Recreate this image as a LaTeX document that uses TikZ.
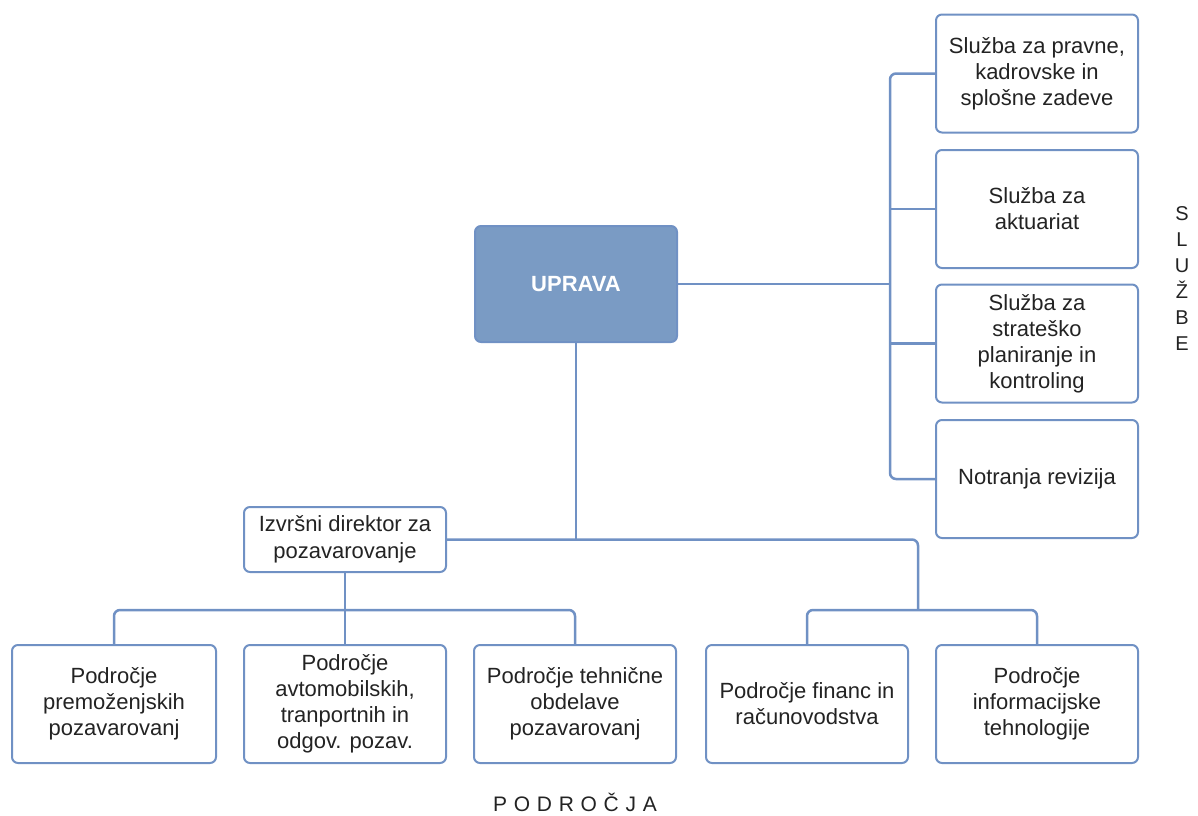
\documentclass[tikz,border=0pt]{standalone}
\usepackage{fontspec}
\setmainfont{Liberation Sans}
\newfontfamily\spaced[LetterSpace=32]{Liberation Sans}
\definecolor{linec}{RGB}{112,145,196}
\definecolor{headc}{RGB}{122,155,196}
\definecolor{txt}{RGB}{35,35,35}
\begin{document}
\begin{tikzpicture}
            [x=0.5pt,y=-0.5pt,
             box/.style ={draw=linec,line width=1pt,rounded corners=3pt,fill=white,
                          minimum width=101pt,minimum height=59pt,align=center,
                          font=\fontsize{11}{13}\selectfont,text=txt,inner sep=1pt},
             head/.style ={box,fill=headc,minimum height=58pt,text=white,
                          font=\fontsize{11}{13}\selectfont\bfseries},
             link/.style ={draw=linec,line width=1.25pt,rounded corners=3pt}]
            \useasboundingbox (0,0) rectangle (1198,815);
            \node[head] (uprava) at (576,284){UPRAVA};
            \node[box] (s1) at (1037,73.5){Služba za pravne,\\kadrovske in\\splošne zadeve};
            \node[box] (s2) at (1037,209){Služba za\\aktuariat};
            \node[box] (s3) at (1037,343.5){Služba za\\strateško\\planiranje in\\kontroling};
            \node[box] (s4) at (1037,479){Notranja revizija};
            \node[box][minimum height=32.5pt,font=\fontsize{11}{13.5}\selectfont] (izv) at (345,539.5){Izvršni direktor za\\pozavarovanje};
            \node[box][minimum width=102pt] (p1) at (114,704){Področje\\premoženjskih\\pozavarovanj};
            \node[box] (p2) at (345,704){Področje\\avtomobilskih,\\tranportnih in\\odgov. pozav.};
            \node[box] (p3) at (575,704){Področje tehnične\\obdelave\\pozavarovanj};
            \node[box] (p4) at (807,704){Področje financ in\\računovodstva};
            \node[box] (p5) at (1037,704){Področje\\informacijske\\tehnologije};
            \node[align=center,font=\fontsize{10}{13}\selectfont,text=txt] (sl) at (1182,279){S\\L\\U\\Ž\\B\\E};
            \node[font=\fontsize{10.5}{12}\spaced,text=txt] (po) at (575,802){PODROČJA};
            \coordinate (bus) at (890,0);
            \coordinate (j1) at (345,610);
            \coordinate (j2) at (918,610);
            % sluzbe
            \path[link] (s1.west) -| (s4.west -| bus) -- (s4.west);
            \path[link] (s2.west) -- (s2.west -| bus);
            \path[link] (s3.west) -- (s3.west -| bus);
            \path[link] (uprava.east) -- (uprava.east -| bus);
            % podrocja
            \path[link] (uprava.south) -- (uprava.south |- izv.east);
            \path[link] (izv.east) -| (j2);
            \path[link] (izv.south) -- (p2.north);
            \path[link] (p1.north) |- (j1) -| (p3.north);
            \path[link] (p4.north) |- (j2) -| (p5.north);
        \end{tikzpicture}
\end{document}
